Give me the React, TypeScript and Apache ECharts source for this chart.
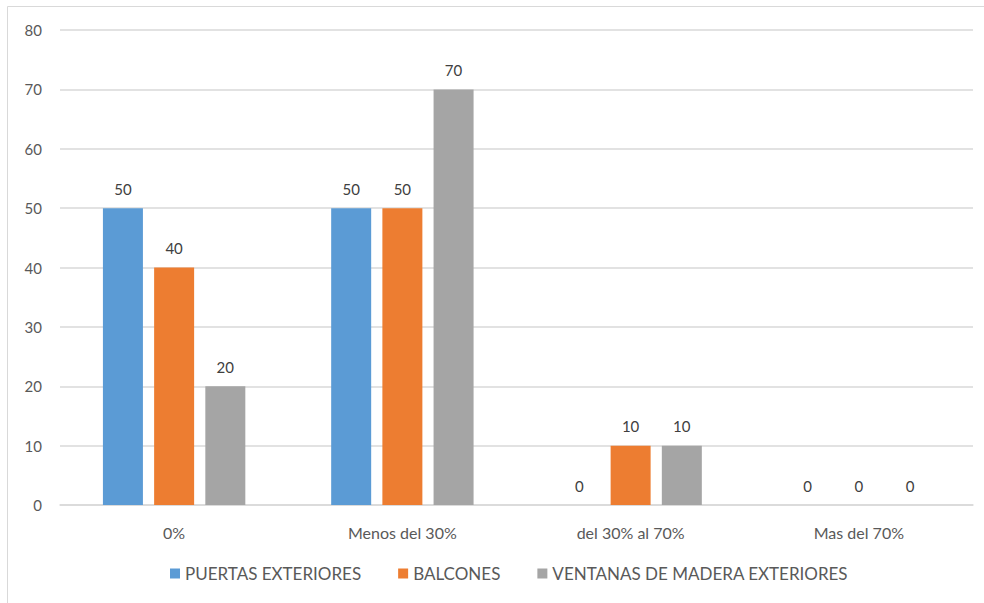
import React, { useEffect, useRef } from "react";
import * as echarts from "echarts";

const categories = ["0%", "Menos del 30%", "del 30% al 70%", "Mas del 70%"];
const seriesNames = ["PUERTAS EXTERIORES", "BALCONES", "VENTANAS DE MADERA EXTERIORES"];
const puertas = [50, 50, 0, 0];
const balcones = [40, 50, 10, 0];
const ventanas = [20, 70, 10, 0];
const colors = ["#5b9bd5", "#ed7d31", "#a5a5a5"];

export default function App() {
  const ref = useRef<HTMLDivElement>(null);
  useEffect(() => {
    document.body.style.margin = "0";
    const chart = echarts.init(ref.current!, null, { renderer: "svg" });
    const font = "Lato, 'Open Sans', sans-serif";
    const data = [puertas, balcones, ventanas];
    chart.setOption({
      animation: false,
      backgroundColor: "#ffffff",
      textStyle: { fontFamily: font },
      graphic: [
        {
          type: "rect",
          shape: { x: 7.5, y: 6.5, width: 1000, height: 700 },
          style: { fill: "none", stroke: "#d9d9d9", lineWidth: 1 },
          silent: true,
        },
      ],
      grid: { left: 60, right: 11, top: 30, bottom: 98, containLabel: false },
      legend: {
        bottom: 16,
        left: 165,
        itemWidth: 10,
        itemHeight: 10,
        itemGap: 37,
        icon: "rect",
        textStyle: { color: "#595959", fontSize: 17, fontFamily: font },
        data: seriesNames,
      },
      xAxis: {
        type: "category",
        data: categories,
        axisLine: { lineStyle: { color: "#d9d9d9", width: 1.5 } },
        axisTick: { show: false },
        axisLabel: { color: "#595959", fontSize: 16, margin: 19, fontFamily: font },
      },
      yAxis: {
        type: "value",
        min: 0,
        max: 80,
        interval: 10,
        axisLine: { show: false },
        axisTick: { show: false },
        splitLine: { lineStyle: { color: "#d9d9d9", width: 1.5 } },
        axisLabel: { color: "#595959", fontSize: 15, margin: 18, fontFamily: font },
      },
      series: seriesNames.map((name, i) => ({
        name,
        type: "bar",
        data: data[i],
        barWidth: 40,
        barGap: "28%",
        itemStyle: { color: colors[i] },
        label: {
          show: true,
          position: "top",
          distance: 12,
          color: "#404040",
          fontSize: 15,
          fontFamily: font,
        },
      })),
    });
    return () => chart.dispose();
  }, []);
  return <div ref={ref} style={{ width: 984, height: 603 }} />;
}
